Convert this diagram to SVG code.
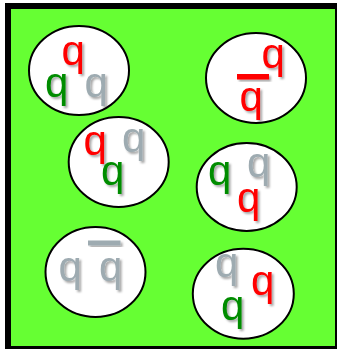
<svg xmlns="http://www.w3.org/2000/svg" width="337" height="349" viewBox="0 0 337 349">
<defs>
<filter id="sh" x="-30%" y="-30%" width="160%" height="160%">
<feDropShadow dx="2" dy="2" stdDeviation="1.2" flood-color="#000" flood-opacity="0.35"/>
</filter>
<style>
.bub{fill:#fff;stroke:#000;stroke-width:2}
.q{font-family:"Liberation Sans",Arial,sans-serif;font-size:42px;filter:url(#sh)}
.r{fill:#ff0000}
.g{fill:#068c06}
.y{fill:#9eabb1}
</style>
</defs>
<rect x="8" y="6" width="330" height="343" fill="#66ff33" stroke="#000" stroke-width="6"/>
<g id="n1">
<ellipse class="bub" cx="79" cy="70.5" rx="50" ry="44.5"/>
<text class="q r" x="61.5" y="65">q</text>
<text class="q g" x="45" y="97">q</text>
<text class="q y" x="84.5" y="97">q</text>
</g>
<g id="n2">
<ellipse class="bub" cx="256" cy="78" rx="50" ry="45"/>
<text class="q r" x="261.5" y="68">q</text>
<rect class="r" x="237" y="74" width="32" height="5.5" filter="url(#sh)"/>
<text class="q r" x="239.5" y="111">q</text>
</g>
<g id="n3">
<ellipse class="bub" cx="118.7" cy="162" rx="50" ry="45"/>
<text class="q r" x="83.5" y="155">q</text>
<text class="q y" x="122" y="152">q</text>
<text class="q g" x="101" y="185">q</text>
</g>
<g id="n4">
<ellipse class="bub" cx="246.7" cy="187" rx="50" ry="44"/>
<text class="q g" x="208" y="185">q</text>
<text class="q y" x="247" y="177">q</text>
<text class="q r" x="237" y="212">q</text>
</g>
<g id="n5">
<ellipse class="bub" cx="95.5" cy="272" rx="50" ry="45"/>
<text class="q y" x="58.5" y="281">q</text>
<rect class="y" x="88" y="240.5" width="32.5" height="5" filter="url(#sh)"/>
<text class="q y" x="99" y="281">q</text>
</g>
<g id="n6">
<ellipse class="bub" cx="243.3" cy="293.7" rx="50.5" ry="45"/>
<text class="q y" x="215" y="277">q</text>
<text class="q r" x="251" y="295">q</text>
<text class="q g" x="221" y="320">q</text>
</g>
</svg>
